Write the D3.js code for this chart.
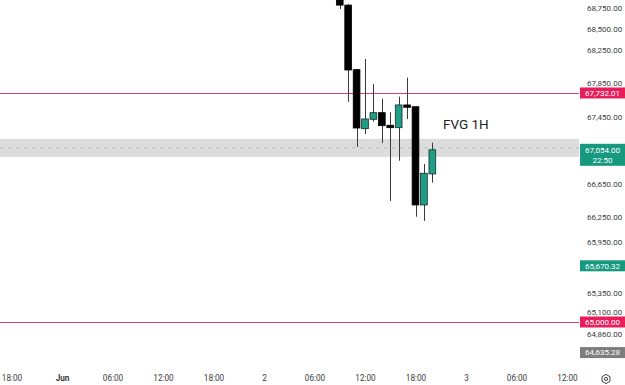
<!DOCTYPE html>
<html><head><meta charset="utf-8">
<script src="https://cdn.jsdelivr.net/npm/d3@7"></script>
<style>
html,body{margin:0;padding:0;background:#fff;}
svg{display:block;font-family:Roboto, "Liberation Sans", sans-serif;}
</style></head>
<body><svg id="c" width="625" height="385"></svg>
<script>
// ---- data ----
const candleTimes = ["2024-06-02T09:00","2024-06-02T10:00","2024-06-02T11:00","2024-06-02T12:00","2024-06-02T13:00","2024-06-02T14:00","2024-06-02T15:00","2024-06-02T16:00","2024-06-02T17:00","2024-06-02T18:00","2024-06-02T19:00","2024-06-02T20:00"];
const opens  = [68900, 68780, 68010, 67306, 67418, 67497, 67347, 67318, 67589, 67568, 66396, 66766];
const highs  = [68960, 68794, 68020, 68138, 67839, 67664, 67502, 67688, 67915, 67575, 66885, 67139];
const lows   = [68734, 67625, 67088, 67243, 67390, 67135, 66444, 66924, 67422, 66256, 66206, 66662];
const closes = [68780, 68006, 67314, 67422, 67497, 67342, 67318, 67589, 67561, 66396, 66774, 67054];

const priceTicks = [68750, 68500, 68250, 67850, 67450, 66650, 66250, 65950, 65350, 65100, 64860];
const timeTicks = ["2024-05-31T18:00","2024-06-01T00:00","2024-06-01T06:00","2024-06-01T12:00","2024-06-01T18:00","2024-06-02T00:00","2024-06-02T06:00","2024-06-02T12:00","2024-06-02T18:00","2024-06-03T00:00","2024-06-03T06:00","2024-06-03T12:00"];
const timeTickLabels = ["18:00","Jun","06:00","12:00","18:00","2","06:00","12:00","18:00","3","06:00","12:00"];

const levelLines = [67732.01, 65000.00];
const fvgZone = [66970, 67185];
const fvgLabel = "FVG 1H";
const lastPrice = 67054.00;
const countdown = "22:50";
const markerGreen = 65670.32;
const markerGray = 64635.28;

// ---- layout ----
const W = 625, H = 385, plotRight = 579, plotBottom = 365;
const svg = d3.select("#c");
const parse = d3.isoParse;

const x = d3.scaleTime()
  .domain([parse("2024-06-01T00:00"), parse("2024-06-03T00:00")])
  .range([62, 466]);
const y = d3.scaleLinear().domain([64487, 68841]).range([plotBottom, 0]);

const hourW = x(parse("2024-06-01T01:00")) - x(parse("2024-06-01T00:00"));
const bodyW = hourW * 0.8;

const plot = svg.append("g");
plot.append("clipPath").attr("id","pc").append("rect").attr("x",0).attr("y",0).attr("width",plotRight).attr("height",plotBottom);
const pg = plot.append("g").attr("clip-path","url(#pc)");

// FVG zone
pg.append("rect")
  .attr("x",0).attr("width",plotRight)
  .attr("y",y(fvgZone[1])).attr("height",y(fvgZone[0])-y(fvgZone[1]))
  .attr("fill","#dcdcdc");
pg.append("line")
  .attr("x1",0).attr("x2",plotRight)
  .attr("y1",(y(fvgZone[0])+y(fvgZone[1]))/2).attr("y2",(y(fvgZone[0])+y(fvgZone[1]))/2)
  .attr("stroke","#bdbdbd").attr("stroke-width",1).attr("stroke-dasharray","3,5");

// level lines
pg.selectAll("line.lvl").data(levelLines).join("line").attr("class","lvl")
  .attr("x1",0).attr("x2",plotRight)
  .attr("y1",d=>Math.round(y(d))+0.5).attr("y2",d=>Math.round(y(d))+0.5)
  .attr("stroke","#dc3f6c").attr("stroke-width",1);

// candles
const candles = candleTimes.map((t,i)=>({t:parse(t),o:opens[i],h:highs[i],l:lows[i],c:closes[i]}));
const cg = pg.selectAll("g.cd").data(candles).join("g").attr("class","cd");
cg.append("line")
  .attr("x1",d=>Math.round(x(d.t))+0.5).attr("x2",d=>Math.round(x(d.t))+0.5)
  .attr("y1",d=>y(d.h)).attr("y2",d=>y(d.l))
  .attr("stroke","#3a3a3a").attr("stroke-width",1);
cg.append("rect")
  .attr("x",d=>x(d.t)-bodyW/2).attr("width",bodyW)
  .attr("y",d=>y(Math.max(d.o,d.c)))
  .attr("height",d=>Math.max(2, Math.abs(y(d.o)-y(d.c))))
  .attr("fill",d=>d.c>=d.o?"#1f9e87":"#000")
  .attr("stroke",d=>d.c>=d.o?"#1d2b28":"#000").attr("stroke-width",0.8);

// FVG label
pg.append("text").attr("x",443).attr("y",y(fvgZone[1])-10)
  .attr("font-size",13.5).attr("fill","#222").text(fvgLabel);

// right price axis
const yAxis = d3.axisRight(y).tickValues(priceTicks).tickSize(0).tickPadding(0).tickFormat(d3.format(",.2f"));
const ya = svg.append("g").attr("transform","translate(587,0)").call(yAxis);
ya.select(".domain").remove();
ya.selectAll("text").attr("font-size",8).attr("fill","#3c3c3c").attr("font-family","Roboto, sans-serif")
  .attr("dy", d => d === 65100 ? "0.1em" : "0.32em");

// price labels
function priceTag(val, bg, lines){
  const cy = y(val);
  const h = lines.length>1 ? 22 : 11;
  const top = lines.length>1 ? cy-6 : cy-h/2;
  svg.append("rect").attr("x",580).attr("y",top).attr("width",45).attr("height",h).attr("fill",bg);
  lines.forEach((s,k)=>{
    svg.append("text").attr("x",602.5).attr("y",(lines.length>1 ? top+6 : cy)+k*10).attr("dy","0.35em")
      .attr("text-anchor","middle").attr("font-size",8).attr("fill","#fff").text(s);
  });
}
const fmt = d3.format(",.2f");
priceTag(levelLines[0], "#e81e5c", [fmt(levelLines[0])]);
priceTag(levelLines[1], "#e81e5c", [fmt(levelLines[1])]);
priceTag(lastPrice, "#16997f", [fmt(lastPrice), countdown]);
priceTag(markerGreen, "#16997f", [fmt(markerGreen)]);
priceTag(markerGray, "#7d7d7d", [fmt(markerGray)]);

// bottom time axis
const xAxis = d3.axisBottom(x).tickValues(timeTicks.map(parse)).tickSize(0).tickPadding(0)
  .tickFormat((d,i)=>timeTickLabels[i]);
const xa = svg.append("g").attr("transform","translate(0,375)").call(xAxis);
xa.select(".domain").remove();
xa.selectAll("text").attr("font-size",8.2).attr("fill","#3c3c3c").attr("font-family","Roboto, sans-serif")
  .attr("font-weight",(d,i)=>timeTickLabels[i]==="Jun"?"bold":"normal");

// settings gear icon
const gear = svg.append("g").attr("transform","translate(606,379)");
gear.append("path").attr("d", d3.range(6).map(k=>{const a=Math.PI/3*k+Math.PI/6;return (k?"L":"M")+(4.6*Math.cos(a)).toFixed(2)+","+(4.6*Math.sin(a)).toFixed(2);}).join("")+"Z")
  .attr("fill","none").attr("stroke","#444").attr("stroke-width",1);
gear.append("circle").attr("r",1.6).attr("fill","none").attr("stroke","#444").attr("stroke-width",1);
</script></body></html>
